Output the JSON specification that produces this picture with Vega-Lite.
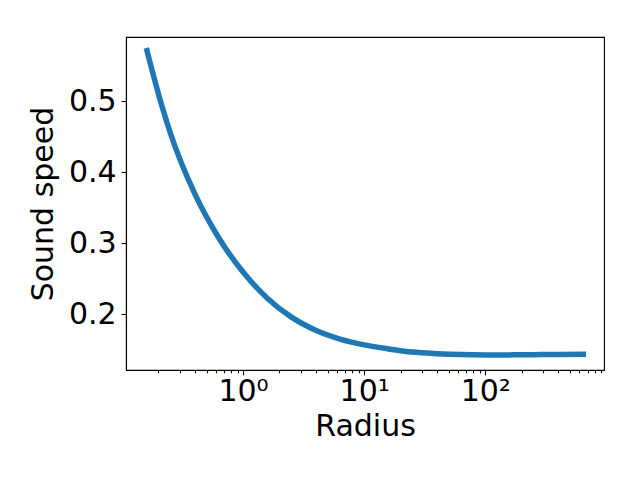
{
  "$schema": "https://vega.github.io/schema/vega-lite/v6.json",
  "width": 478,
  "height": 333,
  "autosize": {"type": "none"},
  "padding": {"left": 126, "top": 37, "right": 36, "bottom": 110},
  "background": "white",
  "config": {
    "view": {"stroke": "black", "strokeWidth": 1.1},
    "font": "DejaVu Sans",
    "axis": {
      "grid": false,
      "domainColor": "black",
      "domainWidth": 1.1,
      "tickColor": "black",
      "tickWidth": 1.1,
      "labelColor": "black",
      "titleColor": "black",
      "labelFont": "DejaVu Sans",
      "titleFont": "DejaVu Sans",
      "labelFontSize": 30,
      "titleFontSize": 30,
      "titleFontWeight": "normal"
    }
  },
  "data": {
    "values": [
      {"r": 0.161, "c": 0.5712},
      {"r": 0.2, "c": 0.5107},
      {"r": 0.251, "c": 0.4553},
      {"r": 0.398, "c": 0.3702},
      {"r": 0.631, "c": 0.3075},
      {"r": 1.0, "c": 0.2594},
      {"r": 1.585, "c": 0.2227},
      {"r": 2.512, "c": 0.196},
      {"r": 3.98, "c": 0.1775},
      {"r": 6.31, "c": 0.1651},
      {"r": 10, "c": 0.1569},
      {"r": 15.85, "c": 0.1512},
      {"r": 25.1, "c": 0.1467},
      {"r": 39.8, "c": 0.1445},
      {"r": 63.1, "c": 0.1432},
      {"r": 100, "c": 0.1428},
      {"r": 158, "c": 0.1428},
      {"r": 251, "c": 0.1431},
      {"r": 398, "c": 0.1434},
      {"r": 646, "c": 0.1436}
    ]
  },
  "mark": {"type": "line", "color": "#1f77b4", "strokeWidth": 5.5, "strokeCap": "square", "interpolate": "monotone"},
  "encoding": {
    "x": {
      "field": "r",
      "type": "quantitative",
      "scale": {"type": "log", "domain": [0.108, 957], "nice": false},
      "axis": {
        "title": "Radius",
        "values": [0.2, 0.3, 0.4, 0.5, 0.6, 0.7, 0.8, 0.9, 1, 2, 3, 4, 5, 6, 7, 8, 9, 10, 20, 30, 40, 50, 60, 70, 80, 90, 100, 200, 300, 400, 500, 600, 700, 800, 900],
        "labelExpr": "datum.value == 1 ? '10⁰' : datum.value == 10 ? '10¹' : datum.value == 100 ? '10²' : ''",
        "labelOverlap": false,
        "labelBound": false,
        "labelFlush": false,
        "tickSize": {"condition": {"test": "datum.value == 1 || datum.value == 10 || datum.value == 100", "value": 4.9}, "value": 2.8},
        "labelPadding": 2,
        "titlePadding": 5
      }
    },
    "y": {
      "field": "c",
      "type": "quantitative",
      "scale": {"domain": [0.1215, 0.5905], "nice": false, "zero": false},
      "axis": {
        "title": "Sound speed",
        "values": [0.2, 0.3, 0.4, 0.5],
        "format": ".1f",
        "tickSize": 4.9,
        "labelPadding": 5,
        "titlePadding": 10
      }
    }
  }
}
